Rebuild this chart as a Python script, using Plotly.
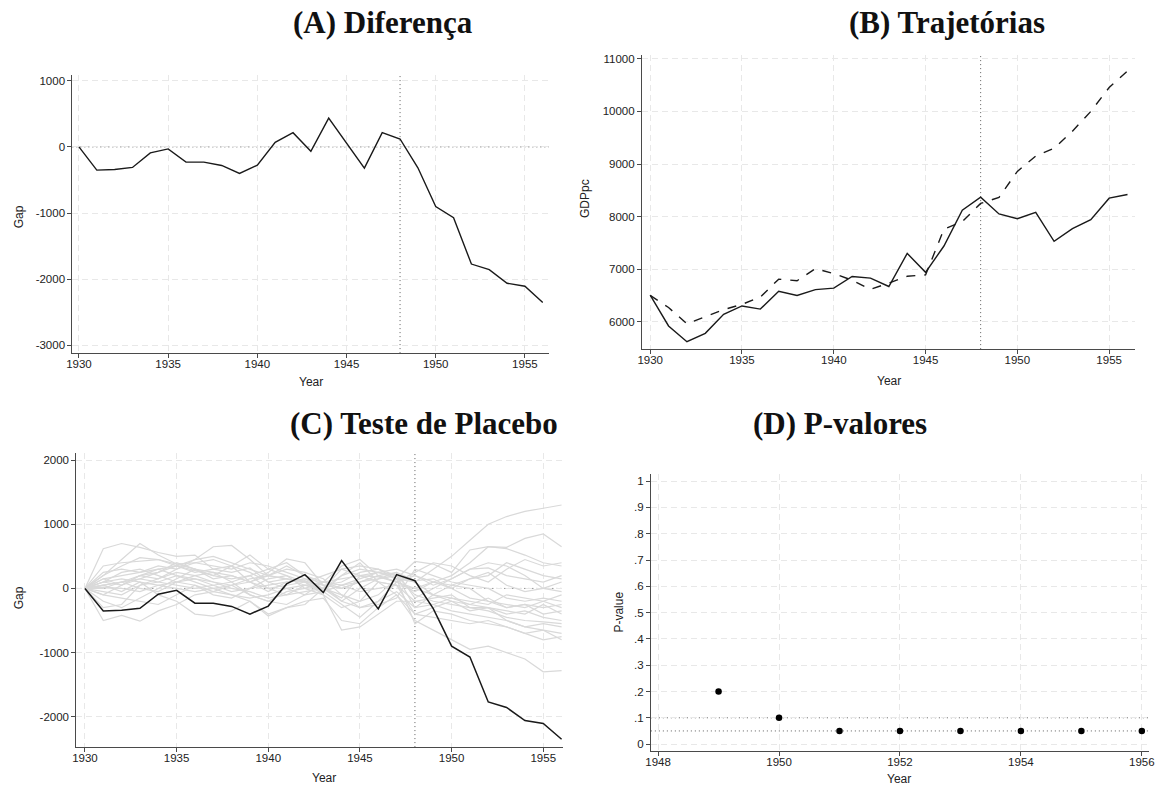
import plotly.graph_objects as go
from plotly.subplots import make_subplots

W, H = 1164, 787

years = list(range(1930, 1957))
treatment_year = 1948

# Gap between treated unit and its synthetic control
gap = [0, -350, -340, -310, -90, -30, -230, -230, -280, -400, -275, 70, 215, -65,
       435, 50, -320, 215, 120, -315, -900, -1070, -1770, -1855, -2060, -2105, -2350]

# GDP per capita: treated (solid) and synthetic (dashed)
gdp_treated = [6505, 5920, 5620, 5780, 6140, 6300, 6240, 6580, 6500, 6610, 6640, 6860,
               6830, 6670, 7300, 6940, 7440, 8120, 8370, 8050, 7960, 8080, 7530, 7770,
               7940, 8350, 8420]
gdp_synthetic = [6500, 6270, 5960, 6090, 6230, 6330, 6470, 6810, 6780, 7010, 6915, 6790,
                 6615, 6735, 6865, 6890, 7760, 7905, 8250, 8365, 8860, 9150, 9300, 9625,
                 10000, 10455, 10770]

# Placebo gaps for the donor units
placebo_gaps = [
    [0, 620, 700, 640, 560, 500, 520, 300, 250, 320, 100, 150, 50, -50, 200, 300, 250, 150, 100, -100, -200, -250, -150, -300, -250, -300, -250],
    [0, 200, 450, 700, 520, 380, 300, 150, 200, 100, -50, 100, 120, 0, -150, 200, 180, 100, 200, 50, 150, 300, 320, 200, 150, 100, 200],
    [0, 100, 50, 200, 250, 350, 450, 650, 670, 450, 200, 350, 200, 50, 100, 250, 300, 150, 420, 380, 250, 600, 650, 620, 520, 400, 350],
    [0, -500, -420, -510, -350, -250, -100, -50, 50, 100, 200, 150, 100, -100, -300, -200, 100, 50, -200, -150, -100, -300, -350, -450, -500, -520, -550],
    [0, 150, 200, 250, 300, 350, 280, 200, 150, 200, 0, -100, 50, 100, 150, 200, 250, 200, 100, 300, 500, 750, 1000, 1120, 1200, 1250, 1300],
    [0, 50, 100, 150, 250, 400, 300, 200, 350, 520, 300, 400, 200, 100, 50, 100, 200, 100, 0, 100, 200, 400, 650, 640, 780, 850, 650],
    [0, -100, -150, -200, -250, -100, 50, -50, -100, -200, -400, -300, -200, -150, -500, -550, -300, -100, -500, -650, -800, -950, -900, -1000, -1100, -1300, -1280],
    [0, 350, 400, 420, 450, 350, 250, 300, 350, 100, 250, 460, 400, 50, -200, 0, 150, 200, -300, -250, -150, -250, -300, -400, -350, -450, -500],
    [0, 50, -50, 100, -100, -200, -400, -430, -350, -200, -430, -300, -250, 0, 200, 400, 100, -100, -400, -300, -200, -350, -300, -500, -600, -650, -700],
    [0, -200, -300, -150, 0, 150, 300, 250, 100, -100, -200, -50, 0, 100, 350, 450, 200, 100, -50, 100, 50, 0, -200, -300, -250, -400, -350],
    [0, 100, 250, 300, 200, 100, 50, -100, -150, 0, 150, 200, 100, -50, -250, -450, -200, 100, 250, 400, 350, 200, 100, 300, 450, 350, 400],
    [0, 20, 0, -50, 50, 100, 150, 100, 0, -50, -150, -100, -50, 0, -100, -200, -100, 150, -550, -350, -400, -500, -550, -600, -700, -800, -750],
    [0, 200, 350, 480, 450, 380, 400, 350, 300, 400, 350, 250, 150, 0, 300, 200, 100, 50, 0, -100, -150, -200, -250, -100, -150, -200, -300],
    [0, -300, -250, 50, 150, 250, 200, 100, 50, -100, -200, -250, -100, 100, 0, 100, 150, 250, 120, 150, 0, -150, -200, -250, -300, -200, -100],
    [0, 100, 150, 100, 50, 0, -50, 0, 50, 150, 200, 300, 250, 150, -100, -300, -200, -50, -300, -100, 50, 150, 200, 400, 300, 200, 150],
    [0, -100, 50, 150, 100, 50, 0, 50, 100, 200, 300, 200, 0, -100, -650, -600, -400, -200, -200, -250, -350, -400, -450, -500, -600, -550, -600],
    [0, 50, 100, 0, -50, 100, 200, 250, 200, 100, 0, 50, 100, 200, 300, 350, 300, 200, -100, -200, -250, -300, -300, -350, -400, -250, -400],
    [0, 250, 300, 250, 350, 300, 400, 450, 350, 250, 100, 0, -100, -50, 50, 150, 250, 300, 200, 100, 0, 150, 250, 50, -50, 0, 100],
    [0, -50, -100, 50, 100, 200, 150, 50, -50, 0, 50, 100, 150, 100, 50, -50, 0, 50, -400, -450, -500, -550, -500, -600, -700, -650, -800],
    [0, 150, 50, 200, 300, 200, 100, 0, -100, -150, -100, 0, 50, 0, -200, -300, -250, -150, 300, 200, 100, 50, 0, -150, -200, -150, -200],
    [0, 0, 100, 200, 150, 300, 450, 500, 400, 300, 200, 150, 100, 50, 0, 100, 200, 250, -150, 0, 150, 300, 400, 350, 200, 0, -50],
]

# Post-treatment p-values
p_years = [1949, 1950, 1951, 1952, 1953, 1954, 1955, 1956]
p_values = [0.2, 0.1, 0.05, 0.05, 0.05, 0.05, 0.05, 0.05]
sig_levels = [0.1, 0.05]

panel_titles = ["(A) Diferença", "(B) Trajetórias", "(C) Teste de Placebo", "(D) P-valores"]

SANS = "Liberation Sans, Arial, sans-serif"
SERIF = "Liberation Serif, Times New Roman, serif"
DARK = "#1a1a1a"
AXIS = "#4a4a4a"
GRID = "#e8e8e8"
REF = "#5f5f5f"


def px_x(px):
    return px / W


def px_y(py):
    return 1 - py / H


fig = make_subplots(rows=2, cols=2)

# (A) gap
fig.add_trace(go.Scatter(x=years, y=gap, mode="lines",
                         line=dict(color=DARK, width=1.4)), row=1, col=1)

# (B) trajectories
fig.add_trace(go.Scatter(x=years, y=gdp_treated, mode="lines",
                         line=dict(color=DARK, width=1.4)), row=1, col=2)
fig.add_trace(go.Scatter(x=years, y=gdp_synthetic, mode="lines",
                         line=dict(color=DARK, width=1.4, dash="dash")), row=1, col=2)

# (C) placebo test
for series in placebo_gaps:
    fig.add_trace(go.Scatter(x=years, y=series, mode="lines",
                             line=dict(color="#d9d9d9", width=1.2)), row=2, col=1)
fig.add_trace(go.Scatter(x=years, y=gap, mode="lines",
                         line=dict(color=DARK, width=1.5)), row=2, col=1)

# (D) p-values
fig.add_trace(go.Scatter(x=p_years, y=p_values, mode="markers",
                         marker=dict(color="black", size=6.5)), row=2, col=2)

# reference lines
dot = dict(color=REF, width=1, dash="1px,3px")
for r, c in [(1, 1), (1, 2), (2, 1)]:
    fig.add_vline(x=treatment_year, line=dot, row=r, col=c, layer="below")
for r, c in [(1, 1), (2, 1)]:
    fig.add_hline(y=0, line=dot, row=r, col=c, layer="below")
for lvl in sig_levels:
    fig.add_hline(y=lvl, line=dot, row=2, col=2, layer="below")

axis_common = dict(
    showline=True, linecolor=AXIS, linewidth=1,
    ticks="outside", ticklen=4, tickcolor=AXIS, tickwidth=1,
    showgrid=True, gridcolor=GRID, gridwidth=1, griddash="6px,4px",
    zeroline=False, tickfont=dict(family=SANS, size=11.5, color="#222"),
)

# panel boxes in pixels: (left, right, top, bottom)
boxes = {
    (1, 1): (67, 548, 73, 352),
    (1, 2): (642, 1140, 53, 348),
    (2, 1): (71, 562, 452, 747),
    (2, 2): (651, 1154, 473, 751),
}
xranges = {
    (1, 1): [1929.63, 1956.34],
    (1, 2): [1929.55, 1956.42],
    (2, 1): [1929.53, 1956.06],
    (2, 2): [1947.88, 1956.12],
}
yranges = {
    (1, 1): [-3116, 1090],
    (1, 2): [5479, 11076],
    (2, 1): [-2473, 2113],
    (2, 2): [-0.0266, 1.028],
}
xticks = {
    (1, 1): [1930, 1935, 1940, 1945, 1950, 1955],
    (1, 2): [1930, 1935, 1940, 1945, 1950, 1955],
    (2, 1): [1930, 1935, 1940, 1945, 1950, 1955],
    (2, 2): [1948, 1950, 1952, 1954, 1956],
}
yticks = {
    (1, 1): [-3000, -2000, -1000, 0, 1000],
    (1, 2): [6000, 7000, 8000, 9000, 10000, 11000],
    (2, 1): [-2000, -1000, 0, 1000, 2000],
    (2, 2): [i / 10 for i in range(11)],
}
yticktext = {
    (1, 1): ["-3000", "-2000", "-1000", "0", "1000"],
    (1, 2): ["6000", "7000", "8000", "9000", "10000", "11000"],
    (2, 1): ["-2000", "-1000", "0", "1000", "2000"],
    (2, 2): ["0", ".1", ".2", ".3", ".4", ".5", ".6", ".7", ".8", ".9", "1"],
}

for (r, c), (l, rt, t, b) in boxes.items():
    fig.update_xaxes(domain=[px_x(l), px_x(rt)], range=xranges[(r, c)],
                     tickvals=xticks[(r, c)], ticktext=[str(v) for v in xticks[(r, c)]],
                     ticklabelstandoff=-4, **axis_common, row=r, col=c)
    fig.update_yaxes(domain=[px_y(b), px_y(t)], range=yranges[(r, c)],
                     tickvals=yticks[(r, c)], ticktext=yticktext[(r, c)],
                     **axis_common, row=r, col=c)

annotations = []
# panel titles
title_pos = [(381, 21), (950, 21), (422, 423), (842, 423)]
for text, (x, y) in zip(panel_titles, title_pos):
    annotations.append(dict(text=f"<b>{text}</b>", x=px_x(x), y=px_y(y),
                            xref="paper", yref="paper", showarrow=False,
                            xanchor="center", yanchor="middle",
                            font=dict(family=SERIF, size=31, color="#111")))
# axis titles
axis_titles = [
    ("Year", 308, 381, 0), ("Year", 891, 380, 0), ("Year", 321, 778, 0), ("Year", 902, 779, 0),
    ("Gap", 14, 215, -90), ("GDPpc", 585, 197, -90), ("Gap", 14, 597, -90), ("P-value", 619, 612, -90),
]
for text, x, y, ang in axis_titles:
    annotations.append(dict(text=text, x=px_x(x), y=px_y(y), xref="paper", yref="paper",
                            showarrow=False, xanchor="center", yanchor="middle",
                            textangle=ang, font=dict(family=SANS, size=12, color="#222")))

fig.update_layout(
    width=W, height=H,
    margin=dict(l=0, r=0, t=0, b=0),
    paper_bgcolor="white", plot_bgcolor="white",
    showlegend=False,
    annotations=annotations,
)

fig.write_html("out.html")
